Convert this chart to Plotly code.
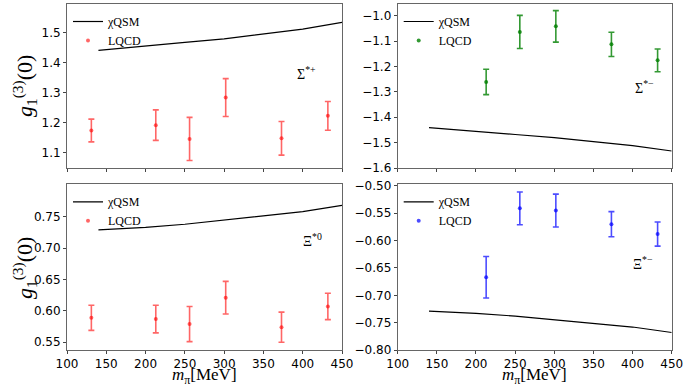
import plotly.graph_objects as go

# ---------------- data ----------------
mpi_qsm = [140, 200, 250, 300, 350, 400, 450]
qsm_sigma_plus = [1.441, 1.457, 1.468, 1.480, 1.495, 1.512, 1.535]
qsm_sigma_minus = [-1.441, -1.457, -1.468, -1.480, -1.495, -1.512, -1.533]
qsm_xi_zero = [0.729, 0.733, 0.738, 0.745, 0.751, 0.758, 0.768]
qsm_xi_minus = [-0.729, -0.733, -0.738, -0.745, -0.751, -0.758, -0.768]

mpi_lqcd6 = [131, 213, 256, 302, 373, 432]
mpi_lqcd5 = [213, 256, 302, 373, 432]

lqcd_sigma_plus = [1.174, 1.192, 1.146, 1.284, 1.148, 1.223]
err_sigma_plus = [0.038, 0.051, 0.072, 0.063, 0.056, 0.048]

lqcd_sigma_minus = [-1.261, -1.064, -1.042, -1.113, -1.176]
err_sigma_minus = [0.050, 0.065, 0.062, 0.048, 0.045]

lqcd_xi_zero = [0.589, 0.587, 0.579, 0.621, 0.574, 0.607]
err_xi_zero = [0.020, 0.022, 0.028, 0.026, 0.024, 0.021]

lqcd_xi_minus = [-0.667, -0.541, -0.545, -0.570, -0.588]
err_xi_minus = [0.038, 0.030, 0.030, 0.023, 0.022]

x_ticks = [100, 150, 200, 250, 300, 350, 400, 450]

W, H = 686, 387
SERIF = "Liberation Serif, DejaVu Serif, serif"
SANS = "DejaVu Sans, sans-serif"

fig = go.Figure()

# panel geometry in pixels (left, right, top, bottom)
panels = [
    dict(xa="x", ya="y", px=(67, 342), py=(4, 168), rng=[1.049, 1.596],
         ticks=[1.1, 1.2, 1.3, 1.4, 1.5], fmt=".1f",
         qsm=qsm_sigma_plus, lx=mpi_lqcd6, ly=lqcd_sigma_plus, le=err_sigma_plus,
         color="rgba(255,0,0,0.6)", label="Σ<sup>*+</sup>", lab=(405, 1.367), xlab=False),
    dict(xa="x2", ya="y2", px=(397.7, 671.7), py=(4, 168), rng=[-1.6, -0.954],
         ticks=[-1.6, -1.5, -1.4, -1.3, -1.2, -1.1, -1.0], fmt=".1f",
         qsm=qsm_sigma_minus, lx=mpi_lqcd5, ly=lqcd_sigma_minus, le=err_sigma_minus,
         color="rgba(0,128,0,0.8)", label="Σ<sup>*−</sup>", lab=(415, -1.282), xlab=False),
    dict(xa="x3", ya="y3", px=(67, 342), py=(184.3, 350), rng=[0.5377, 0.8016],
         ticks=[0.55, 0.60, 0.65, 0.70, 0.75], fmt=".2f",
         qsm=qsm_xi_zero, lx=mpi_lqcd6, ly=lqcd_xi_zero, le=err_xi_zero,
         color="rgba(255,0,0,0.6)", label="Ξ<sup>*0</sup>", lab=(412, 0.713), xlab=True),
    dict(xa="x4", ya="y4", px=(397.7, 671.7), py=(184.3, 350), rng=[-0.80, -0.497],
         ticks=[-0.80, -0.75, -0.70, -0.65, -0.60, -0.55, -0.50], fmt=".2f",
         qsm=qsm_xi_minus, lx=mpi_lqcd5, ly=lqcd_xi_minus, le=err_xi_minus,
         color="rgba(0,0,255,0.7)", label="Ξ<sup>*−</sup>", lab=(413, -0.641), xlab=True),
]

layout = dict(width=W, height=H, margin=dict(l=0, r=0, t=0, b=0, autoexpand=False),
              paper_bgcolor="white", plot_bgcolor="white", showlegend=True,
              font=dict(family=SANS, size=12, color="black"))
annotations = []

for i, p in enumerate(panels):
    n = "" if i == 0 else str(i + 1)
    legname = "legend" if i == 0 else f"legend{i + 1}"
    fig.add_trace(go.Scatter(x=mpi_qsm, y=p["qsm"], mode="lines", name="χQSM",
                             line=dict(color="black", width=1.2),
                             xaxis=p["xa"], yaxis=p["ya"], legend=legname))
    fig.add_trace(go.Scatter(x=p["lx"], y=p["ly"], mode="markers", name="LQCD",
                             marker=dict(color=p["color"], size=4),
                             error_y=dict(type="data", array=p["le"], visible=True,
                                          color=p["color"], thickness=1.6, width=3),
                             xaxis=p["xa"], yaxis=p["ya"], legend=legname))
    xd = [p["px"][0] / W, p["px"][1] / W]
    yd = [1 - p["py"][1] / H, 1 - p["py"][0] / H]
    common = dict(showline=True, mirror=True, linecolor="#666", linewidth=1,
                  showgrid=False, zeroline=False, ticks="outside", ticklen=3,
                  automargin=False,
                  tickcolor="#444", tickfont=dict(family=SANS, size=12, color="black"))
    layout["xaxis" + n] = dict(domain=xd, range=[100, 450], tickvals=x_ticks,
                               showticklabels=p["xlab"], anchor="y" + n, **common)
    layout["yaxis" + n] = dict(domain=yd, range=p["rng"], tickvals=p["ticks"],
                               tickformat=p["fmt"], anchor="x" + n, **common)
    layout[legname] = dict(x=(p["px"][0] + 1) / W, y=1 - (p["py"][0] + 3) / H,
                           xanchor="left", yanchor="top", bgcolor="rgba(0,0,0,0)",
                           font=dict(family=SERIF, size=12, color="black"),
                           tracegroupgap=0, itemwidth=30)
    annotations.append(dict(x=p["lab"][0], y=p["lab"][1], xref=p["xa"], yref=p["ya"],
                            text=p["label"], showarrow=False,
                            font=dict(family=SERIF, size=14, color="black")))
    if p["xlab"]:
        annotations.append(dict(x=(p["px"][0] + p["px"][1]) / 2 / W, y=1 - 376 / H,
                                xref="paper", yref="paper", xanchor="center",
                                yanchor="middle",
                                text="<i>m</i><sub>π</sub>[MeV]", showarrow=False,
                                font=dict(family=SERIF, size=17, color="black")))

for yc in (86, 268):
    annotations.append(dict(x=24 / W, y=1 - yc / H, xref="paper", yref="paper",
                            xanchor="center", yanchor="middle",
                            text="<i>g</i><sub>1</sub><sup>(3)</sup>(0)", textangle=-90,
                            showarrow=False,
                            font=dict(family=SERIF, size=22, color="black")))

layout["annotations"] = annotations
fig.update_layout(**layout)
fig.write_html("out.html", config={"displayModeBar": False},
               post_script="document.body.style.margin='0';")
